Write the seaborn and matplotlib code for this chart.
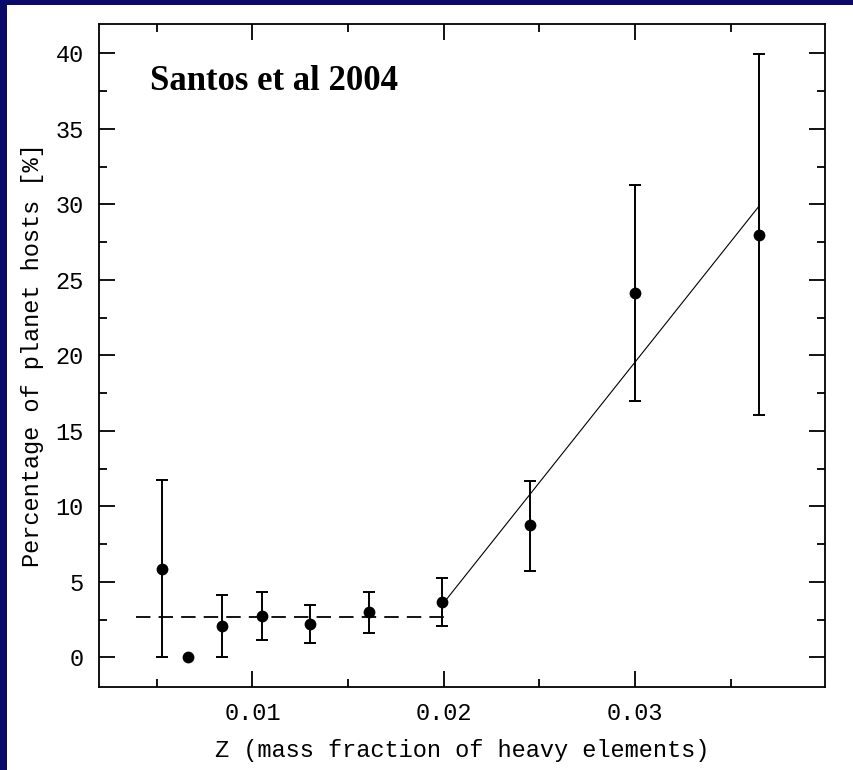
import numpy as np
import pandas as pd
import matplotlib
matplotlib.use("Agg")
import matplotlib.pyplot as plt
import seaborn as sns
from matplotlib.patches import Rectangle
from matplotlib.ticker import MultipleLocator, FixedLocator

# ---- data ----
Z = [0.00528, 0.00665, 0.0084, 0.0105, 0.0130, 0.0161, 0.0199, 0.0245, 0.0300, 0.0365]
pct = [5.85, 0.0, 2.1, 2.75, 2.2, 3.0, 3.65, 8.75, 24.1, 28.0]
err_low = [0.0, np.nan, 0.0, 1.15, 0.95, 1.6, 2.05, 5.7, 16.95, 16.05]
err_high = [11.75, np.nan, 4.15, 4.35, 3.45, 4.35, 5.25, 11.7, 31.3, 39.95]

flat_x = [0.0039, 0.0200]
flat_y = [2.7, 2.7]
slope_x = [0.0200, 0.0365]
slope_y = [3.6, 29.9]

x_ticks = [0.01, 0.02, 0.03]
x_tick_labels = ["0.01", "0.02", "0.03"]
y_ticks = [0, 5, 10, 15, 20, 25, 30, 35, 40]

title_text = "Santos et al 2004"
x_label = "Z (mass fraction of heavy elements)"
y_label = "Percentage of planet hosts [%]"

# ---- styling ----
sns.set_theme(style="ticks")
mono = ["Liberation Mono", "DejaVu Sans Mono"]
plt.rcParams["font.family"] = mono

fig = plt.figure(figsize=(8.54, 7.70), dpi=100)
fig.patch.set_facecolor("white")
navy = "#0a0a6c"
fig.patches.append(Rectangle((0, 0), 7 / 854, 1, transform=fig.transFigure,
                             facecolor=navy, edgecolor="none", zorder=0))
fig.patches.append(Rectangle((0, 1 - 5 / 770), 1, 5 / 770, transform=fig.transFigure,
                             facecolor=navy, edgecolor="none", zorder=0))

ax = fig.add_axes([99 / 854, 1 - 686.7 / 770, (825 - 99) / 854, (686.7 - 24) / 770])
ax.set_facecolor("white")

df = pd.DataFrame({"Z": Z, "pct": pct, "lo": err_low, "hi": err_high})
eb = df.dropna()
ax.errorbar(eb["Z"], eb["pct"], yerr=[eb["pct"] - eb["lo"], eb["hi"] - eb["pct"]],
            fmt="none", ecolor="black", elinewidth=1.4, capsize=4.5, capthick=1.4, zorder=2)

sns.lineplot(x=flat_x, y=flat_y, ax=ax, color="black", lw=1.3,
             linestyle=(0, (8, 4.5)), zorder=1)
sns.lineplot(x=slope_x, y=slope_y, ax=ax, color="black", lw=0.8, zorder=1)
sns.scatterplot(data=df, x="Z", y="pct", ax=ax, color="black", s=72,
                edgecolor="black", linewidth=0, zorder=3)

ax.set_xlim(0.00198, 0.03994)
ax.set_ylim(-1.95, 41.95)
ax.xaxis.set_major_locator(FixedLocator(x_ticks))
ax.set_xticklabels(x_tick_labels)
ax.xaxis.set_minor_locator(MultipleLocator(0.005))
ax.yaxis.set_major_locator(FixedLocator(y_ticks))
ax.yaxis.set_minor_locator(MultipleLocator(2.5))

for s in ax.spines.values():
    s.set_color("black")
    s.set_linewidth(1.3)
ax.tick_params(which="both", direction="in", top=True, right=True,
               color="black", width=1.3)
ax.tick_params(which="major", length=11.5, pad=11, labelsize=17, labelcolor="black")
ax.tick_params(which="minor", length=5.5)

ax.set_xlabel(x_label, fontsize=17, color="black", labelpad=10)
ax.set_ylabel(y_label, fontsize=17, color="black", labelpad=8)

ax.text(0.0702, 0.9125, title_text, transform=ax.transAxes, ha="left", va="center",
        fontsize=25, fontweight="bold", family=["Liberation Serif", "DejaVu Serif"],
        color="black")

fig.savefig("out.png", dpi=100, facecolor=fig.get_facecolor())
